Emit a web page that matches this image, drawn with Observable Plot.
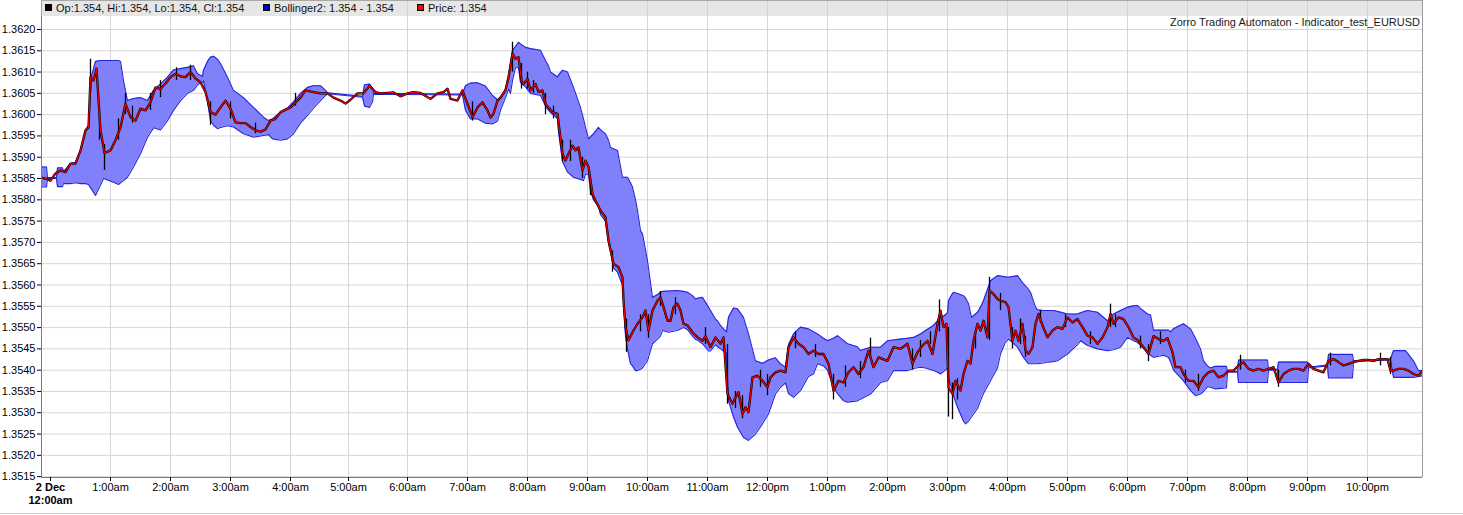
<!DOCTYPE html>
<html><head><meta charset="utf-8">
<script src="https://cdn.jsdelivr.net/npm/d3@7"></script>
<script src="https://cdn.jsdelivr.net/npm/@observablehq/plot@0.6"></script>
<style>
body{margin:0;background:#fff;font-family:"Liberation Sans",Arial,sans-serif;}
#wrap{position:relative;width:1463px;height:515px;overflow:hidden;}
#legend{position:absolute;left:41px;top:0;width:1381px;height:16px;background:rgba(205,205,205,0.5);border-top:1px solid #a8a8a8;box-sizing:border-box;font-size:11px;color:#111;}
.item{position:absolute;top:1px;white-space:nowrap;line-height:13px;}
.sw{display:inline-block;width:5px;height:5px;border:1px solid #000;margin-right:4px;vertical-align:1px;}
#title{position:absolute;right:43px;top:16px;font-size:11px;line-height:13px;color:#1a1a1a;white-space:nowrap;}
#bline{position:absolute;left:0;top:513px;width:1463px;height:1px;background:#c8c8c8;}
</style>
</head><body>
<div id="wrap">
<div id="chart"></div>
<div id="legend"></div>
<div id="title"></div>
<div id="bline"></div>
</div>
<script>
// ---- data ----
const titleText = "Zorro Trading Automaton - Indicator_test_EURUSD";
const legendItems = [
  {label: "Op:1.354, Hi:1.354, Lo:1.354, Cl:1.354", color: "#000000", left: 4},
  {label: "Bollinger2: 1.354 - 1.354", color: "#0000c8", left: 222},
  {label: "Price: 1.354", color: "#ff0000", left: 376}
];
const yTicks = [1.3515,1.3520,1.3525,1.3530,1.3535,1.3540,1.3545,1.3550,1.3555,1.3560,1.3565,1.3570,1.3575,1.3580,1.3585,1.3590,1.3595,1.3600,1.3605,1.3610,1.3615,1.3620];
// bar index (minutes since 2 Dec 12:00am on the chart's bar axis) of each hour mark
const hourBars = [0,60,120,180,240,298,357,417,477,537,597,657,717,777,837,897,957,1017,1077,1137,1197,1257,1317];
const hourLabels = ["2 Dec\n12:00am","1:00am","2:00am","3:00am","4:00am","5:00am","6:00am","7:00am","8:00am","9:00am","10:00am","11:00am","12:00pm","1:00pm","2:00pm","3:00pm","4:00pm","5:00pm","6:00pm","7:00pm","8:00pm","9:00pm","10:00pm"];
const barRange = [-9, 1372];

// price (bar, close)
const priceBars = [
[-9,1.35852],[-5,1.3585],[0,1.35845],[5,1.35862],[10,1.35869],[15,1.35865],[20,1.35885],[25,1.35885],[30,1.35916],[35,1.35963],[38,1.3597],[40,1.36088],[43,1.3608],[46,1.36108],[50,1.35963],[54,1.3591],[60,1.35916],[65,1.3594],[70,1.3597],[75,1.36026],[80,1.35994],[85,1.35986],[90,1.36014],[95,1.3601],[100,1.36029],[105,1.36064],[110,1.3606],[115,1.36073],[120,1.36088],[125,1.36096],[130,1.3609],[135,1.36088],[140,1.3610],[145,1.36085],[150,1.36076],[155,1.36053],[160,1.36006],[165,1.3600],[170,1.36017],[175,1.36033],[180,1.36014],[185,1.35982],[190,1.3598],[195,1.3598],[200,1.35971],[205,1.35963],[210,1.3596],[215,1.35965],[220,1.35986],[225,1.3599],[230,1.36006],[240,1.36017],[250,1.3604],[255,1.36057],[263,1.36053],[270,1.3605],[277,1.3605],[283,1.3604],[290,1.36033],[295,1.36026],[300,1.36035],[307,1.3605],[313,1.3605],[319,1.36068],[325,1.36053],[330,1.3605],[337,1.36051],[343,1.36052],[350,1.36043],[357,1.3605],[363,1.36053],[370,1.36051],[380,1.36037],[387,1.3605],[393,1.36053],[397,1.36061],[400,1.36037],[407,1.36033],[412,1.36057],[417,1.36025],[422,1.35994],[427,1.36017],[432,1.36029],[437,1.3601],[440,1.35993],[443,1.36002],[447,1.36033],[450,1.3604],[455,1.36057],[458,1.36088],[462,1.36143],[465,1.36131],[468,1.36135],[471,1.3608],[473,1.36072],[477,1.36084],[480,1.36057],[485,1.36072],[488,1.36053],[492,1.36057],[495,1.36025],[498,1.36017],[502,1.36006],[507,1.36002],[509,1.35963],[512,1.35908],[515,1.35892],[518,1.35908],[522,1.35927],[525,1.35916],[528,1.35923],[532,1.35869],[535,1.35892],[538,1.35877],[542,1.35814],[545,1.35798],[550,1.35775],[555,1.35759],[558,1.35704],[563,1.3565],[568,1.35642],[572,1.35618],[573,1.35563],[575,1.35501],[578,1.3547],[582,1.35489],[587,1.35509],[592,1.35524],[595,1.3554],[598,1.35493],[602,1.3554],[607,1.35563],[610,1.35571],[613,1.35548],[617,1.35516],[620,1.35516],[623,1.35548],[627,1.35556],[630,1.3554],[633,1.35509],[637,1.35505],[642,1.35489],[647,1.35477],[652,1.35469],[655,1.3548],[660,1.35454],[665,1.35477],[670,1.35462],[673,1.35477],[677,1.35344],[682,1.35321],[685,1.35336],[688,1.35348],[692,1.35297],[695,1.35313],[698,1.35301],[702,1.35383],[707,1.35387],[712,1.35375],[717,1.3536],[720,1.35383],[725,1.35395],[730,1.35399],[735,1.35395],[738,1.35454],[743,1.35477],[748,1.35462],[753,1.35454],[758,1.35438],[763,1.35446],[768,1.35438],[773,1.35438],[778,1.35415],[783,1.35352],[788,1.35375],[793,1.35371],[798,1.35395],[803,1.35407],[808,1.35391],[813,1.35407],[818,1.35446],[823,1.35407],[828,1.3543],[837,1.35422],[843,1.35454],[850,1.3545],[857,1.35462],[862,1.35415],[867,1.35442],[872,1.35458],[877,1.35469],[882,1.35438],[887,1.35509],[890,1.3554],[893,1.35501],[896,1.35509],[898,1.3536],[902,1.35344],[905,1.35375],[910,1.35352],[913,1.35391],[917,1.35422],[920,1.35415],[923,1.35469],[927,1.35509],[930,1.35493],[933,1.35516],[937,1.35477],[939,1.35587],[943,1.35579],[947,1.35567],[950,1.35563],[955,1.3556],[958,1.35548],[962,1.35469],[965,1.35493],[968,1.35469],[972,1.35509],[975,1.35446],[978,1.35438],[982,1.35454],[985,1.35509],[988,1.35532],[992,1.35505],[997,1.35477],[1002,1.35493],[1007,1.35501],[1012,1.35497],[1017,1.35524],[1022,1.35512],[1027,1.3552],[1032,1.35501],[1037,1.35481],[1042,1.35477],[1047,1.35462],[1052,1.35477],[1057,1.35501],[1060,1.35532],[1063,1.35509],[1068,1.35524],[1073,1.3552],[1078,1.35501],[1083,1.35477],[1088,1.35469],[1093,1.35454],[1098,1.35438],[1103,1.3548],[1108,1.35473],[1113,1.35469],[1117,1.35475],[1122,1.35442],[1125,1.35407],[1130,1.35407],[1133,1.35391],[1138,1.35375],[1143,1.35375],[1148,1.3536],[1153,1.35383],[1158,1.35395],[1163,1.35399],[1168,1.35383],[1173,1.35387],[1178,1.35399],[1183,1.35399],[1188,1.35411],[1193,1.35419],[1198,1.35403],[1203,1.35399],[1208,1.35403],[1213,1.35399],[1218,1.35403],[1223,1.35407],[1228,1.35371],[1233,1.35391],[1238,1.35399],[1243,1.35403],[1248,1.35403],[1253,1.35399],[1258,1.35415],[1263,1.35403],[1268,1.35399],[1273,1.35395],[1278,1.35422],[1283,1.35426],[1288,1.35419],[1293,1.35411],[1298,1.35415],[1303,1.35419],[1308,1.35422],[1313,1.35424],[1318,1.35424],[1323,1.35422],[1328,1.35426],[1333,1.35426],[1337,1.35426],[1340,1.35399],[1343,1.35399],[1348,1.35403],[1353,1.35403],[1358,1.35399],[1363,1.35391],[1368,1.35387],[1372,1.35399]
];

// candle wicks (bar, low, high) for the visible spikes
const wickBars = [
[40,1.3605,1.3613],[49,1.3594,1.3600],[54,1.35869,1.3593],[68,1.3594,1.3599],[75,1.3600,1.3605],[82,1.3598,1.3602],[100,1.3601,1.3605],[110,1.3604,1.3608],[126,1.3608,1.3611],[140,1.3608,1.36116],[160,1.35975,1.3603],[180,1.3599,1.3603],[205,1.35955,1.3598],[245,1.3602,1.3605],[422,1.35985,1.3603],[462,1.3610,1.3617],[471,1.3606,1.3612],[477,1.3606,1.3610],[483,1.3605,1.3608],[495,1.3600,1.3605],[503,1.3599,1.3602],[512,1.3589,1.3594],[520,1.3589,1.3594],[532,1.3585,1.3590],[540,1.3581,1.3585],[562,1.3563,1.3568],[576,1.35442,1.3552],[590,1.3549,1.3553],[598,1.35475,1.3553],[610,1.3555,1.35585],[625,1.3553,1.3557],[655,1.3546,1.3550],[677,1.3532,1.3546],[685,1.3531,1.3535],[692,1.35286,1.3534],[710,1.3536,1.3540],[717,1.3534,1.3539],[745,1.3545,1.3549],[765,1.3543,1.3546],[783,1.3533,1.3539],[795,1.3536,1.3541],[810,1.3538,1.3542],[820,1.3543,1.35475],[862,1.3540,1.3545],[870,1.3543,1.3547],[880,1.3546,1.3549],[889,1.3549,1.35565],[898,1.3529,1.3550],[902,1.35284,1.3537],[907,1.3533,1.3538],[925,1.3545,1.3549],[939,1.3547,1.35618],[950,1.3554,1.3558],[962,1.3545,1.3550],[970,1.3546,1.3552],[975,1.3543,1.3548],[990,1.3551,1.3554],[1015,1.3550,1.3553],[1040,1.3546,1.3549],[1060,1.3550,1.35555],[1065,1.3550,1.3553],[1090,1.3545,1.3548],[1098,1.3542,1.3546],[1110,1.3546,1.3549],[1135,1.3537,1.3540],[1148,1.3535,1.3539],[1190,1.3540,1.35435],[1228,1.3536,1.3540],[1280,1.3541,1.3544],[1330,1.3541,1.3544],[1340,1.3539,1.3543]
];

// Bollinger band (bar, lower, upper)
const bandBars = [
[-9,1.35830,1.35877],[-4,1.35830,1.35877],[-3,1.35850,1.35852],[6,1.35850,1.35852],[7,1.35831,1.35875],[12,1.35831,1.35875],[13,1.35838,1.35866],[20,1.35838,1.35885],[25,1.35840,1.35888],[30,1.35838,1.35916],[35,1.35838,1.35963],[38,1.35836,1.35975],[41,1.35825,1.36090],[45,1.35810,1.36125],[50,1.35835,1.36127],[53,1.35850,1.36127],[63,1.35841,1.36127],[68,1.35836,1.36127],[70,1.35840,1.36125],[73,1.35845,1.36080],[77,1.35853,1.36033],[83,1.35877,1.36038],[90,1.35908,1.36040],[97,1.35947,1.36033],[103,1.35969,1.36057],[110,1.35964,1.36072],[117,1.35986,1.36088],[123,1.36010,1.36105],[130,1.36033,1.36108],[137,1.36050,1.36111],[143,1.36057,1.36115],[147,1.36070,1.36096],[152,1.36076,1.36090],[153,1.36080,1.36104],[157,1.36030,1.36125],[160,1.35986,1.36135],[163,1.35975,1.36137],[167,1.35967,1.36130],[170,1.35970,1.36120],[177,1.35974,1.36088],[183,1.35971,1.36057],[193,1.35955,1.36040],[203,1.35947,1.36017],[213,1.35951,1.35994],[218,1.35953,1.35986],[222,1.35943,1.35990],[230,1.35940,1.36006],[237,1.35943,1.36015],[243,1.35955,1.36030],[250,1.35980,1.36050],[257,1.35998,1.36064],[263,1.36015,1.36068],[270,1.36033,1.36068],[275,1.36045,1.36057],[277,1.36049,1.36051],[312,1.36041,1.36043],[314,1.36020,1.36070],[319,1.36017,1.36072],[322,1.36030,1.36062],[323,1.36048,1.36050],[412,1.36046,1.36048],[415,1.36010,1.36068],[420,1.35990,1.36074],[427,1.35990,1.36075],[435,1.35980,1.36067],[442,1.35978,1.36045],[447,1.35985,1.36035],[450,1.36010,1.36040],[455,1.36040,1.36060],[458,1.36060,1.36090],[460,1.36050,1.36120],[462,1.36080,1.36151],[465,1.36110,1.36160],[468,1.36110,1.36170],[470,1.36075,1.36166],[475,1.36065,1.36158],[480,1.36050,1.36155],[490,1.36045,1.36151],[495,1.36020,1.36127],[498,1.36010,1.36115],[500,1.36005,1.36100],[505,1.35995,1.36092],[507,1.35990,1.36088],[508,1.35960,1.36093],[512,1.35890,1.36104],[517,1.35865,1.36100],[523,1.35853,1.36064],[530,1.35848,1.36017],[533,1.35845,1.35990],[535,1.35860,1.35970],[538,1.35860,1.35943],[540,1.35820,1.35948],[543,1.35800,1.35955],[548,1.35785,1.35970],[550,1.35765,1.35965],[555,1.35750,1.35955],[558,1.35700,1.35940],[560,1.35680,1.35923],[563,1.35640,1.35920],[567,1.35630,1.35916],[572,1.35600,1.35853],[575,1.35480,1.35853],[577,1.35450,1.35853],[580,1.35415,1.35840],[582,1.35410,1.35830],[585,1.35399,1.35800],[587,1.35399,1.35775],[590,1.35402,1.35728],[592,1.35405,1.35720],[597,1.35422,1.35657],[602,1.35462,1.35571],[607,1.35473,1.35577],[610,1.35480,1.35583],[612,1.35493,1.35585],[618,1.35489,1.35586],[627,1.35493,1.35587],[633,1.35500,1.35585],[637,1.35495,1.35583],[642,1.35480,1.35575],[645,1.35472,1.35567],[647,1.35470,1.35569],[652,1.35462,1.35571],[658,1.35445,1.35548],[660,1.35445,1.35540],[665,1.35460,1.35520],[667,1.35455,1.35516],[670,1.35450,1.35505],[673,1.35445,1.35497],[676,1.35440,1.35490],[678,1.35328,1.35524],[683,1.35290,1.35546],[687,1.35266,1.35544],[693,1.35242,1.35524],[698,1.35235,1.35485],[705,1.35250,1.35422],[712,1.35274,1.35416],[718,1.35297,1.35424],[725,1.35344,1.35429],[730,1.35360,1.35415],[735,1.35370,1.35407],[738,1.35345,1.35460],[743,1.35336,1.35485],[750,1.35352,1.35501],[758,1.35385,1.35497],[763,1.35391,1.35490],[767,1.35415,1.35485],[773,1.35410,1.35475],[777,1.35400,1.35469],[783,1.35360,1.35475],[787,1.35345,1.35481],[793,1.35328,1.35470],[797,1.35325,1.35462],[807,1.35328,1.35455],[810,1.35332,1.35446],[820,1.35344,1.35454],[830,1.35371,1.35454],[837,1.35375,1.35469],[843,1.35399,1.35471],[850,1.35399,1.35473],[857,1.35399,1.35475],[863,1.35404,1.35477],[870,1.35407,1.35485],[875,1.35405,1.35493],[883,1.35399,1.35505],[887,1.35395,1.35516],[890,1.35391,1.35522],[895,1.35400,1.35530],[897,1.35407,1.35535],[898,1.35380,1.35563],[902,1.35352,1.35580],[903,1.35340,1.35583],[907,1.35313,1.35580],[913,1.35280,1.35575],[915,1.35274,1.35570],[918,1.35280,1.35556],[921,1.35290,1.35524],[923,1.35297,1.35528],[927,1.35310,1.35536],[930,1.35328,1.35548],[933,1.35345,1.35563],[940,1.35375,1.35610],[947,1.35405,1.35622],[950,1.35438,1.35621],[955,1.35466,1.35619],[958,1.35473,1.35618],[967,1.35454,1.35622],[973,1.35430,1.35603],[978,1.35415,1.35590],[980,1.35415,1.35583],[985,1.35415,1.35548],[987,1.35415,1.35542],[993,1.35417,1.35540],[997,1.35419,1.35540],[1003,1.35420,1.35540],[1007,1.35422,1.35538],[1017,1.35438,1.35532],[1027,1.35460,1.35532],[1030,1.35469,1.35535],[1037,1.35458,1.35540],[1047,1.35450,1.35536],[1057,1.35446,1.35516],[1063,1.35448,1.35532],[1070,1.35454,1.35540],[1077,1.35477,1.35548],[1083,1.35469,1.35551],[1087,1.35465,1.35552],[1090,1.35458,1.35545],[1097,1.35442,1.35532],[1100,1.35435,1.35530],[1103,1.35430,1.35494],[1107,1.35432,1.35494],[1113,1.35435,1.35494],[1118,1.35430,1.35494],[1120,1.35420,1.35490],[1123,1.35400,1.35497],[1133,1.35375,1.35509],[1140,1.35352,1.35497],[1145,1.35340,1.35475],[1150,1.35344,1.35450],[1153,1.35350,1.35422],[1157,1.35361,1.35410],[1160,1.35360,1.35405],[1165,1.35356,1.35409],[1176,1.35358,1.35409],[1177,1.35395,1.35397],[1187,1.35395,1.35397],[1188,1.35371,1.35424],[1217,1.35371,1.35424],[1218,1.35400,1.35402],[1227,1.35400,1.35402],[1228,1.35371,1.35419],[1257,1.35371,1.35419],[1258,1.35405,1.35407],[1277,1.35410,1.35412],[1278,1.35382,1.35437],[1302,1.35382,1.35437],[1303,1.35420,1.35422],[1340,1.35424,1.35426],[1343,1.35383,1.35446],[1355,1.35383,1.35446],[1363,1.35383,1.35422],[1368,1.35385,1.35399],[1372,1.35387,1.35399]
];

// ---- chart ----
const yDomain = [1.35148, 1.36268];
const labelOf = new Map(hourBars.map((b, i) => [b, hourLabels[i]]));

const chart = Plot.plot({
  width: 1463, height: 515,
  marginLeft: 41, marginRight: 41, marginTop: 0, marginBottom: 38,
  x: {type: "linear", domain: barRange, axis: null},
  y: {domain: yDomain, axis: null},
  style: {fontFamily: "'Liberation Sans', Arial, sans-serif", fontSize: "11px", background: "transparent", color: "#000"},
  marks: [
    Plot.ruleX(hourBars.slice(1), {stroke: "#d6d6d6", strokeWidth: 1}),
    Plot.ruleY(yTicks, {stroke: "#d6d6d6", strokeWidth: 1}),
    Plot.areaY(bandBars, {x: d => d[0], y1: d => d[1], y2: d => d[2], fill: "#8080fb", fillOpacity: 1, clip: true}),
    Plot.line(bandBars, {x: d => d[0], y: d => d[2], stroke: "#2525dc", strokeWidth: 1.1, clip: true}),
    Plot.line(bandBars, {x: d => d[0], y: d => d[1], stroke: "#2525dc", strokeWidth: 1.1, clip: true}),
    Plot.line(priceBars, {x: d => d[0], y: d => d[1], stroke: "#000", strokeWidth: 2.3, clip: true}),
    Plot.ruleX(wickBars, {x: d => d[0], y1: d => d[1], y2: d => d[2], stroke: "#000", strokeWidth: 1.3}),
    Plot.line(priceBars, {x: d => d[0], y: d => d[1], stroke: "#f00000", strokeWidth: 1.2, clip: true}),
    Plot.ruleX([barRange[0]], {stroke: "#7a7a7a"}),
    Plot.ruleX([barRange[1]], {stroke: "#9a9a9a"}),
    Plot.ruleY([yDomain[0]], {stroke: "#7a7a7a"}),
    Plot.axisY(yTicks, {tickSize: 4, tickPadding: 2, tickFormat: d => d.toFixed(4), fontSize: 11}),
    Plot.axisX(hourBars, {tickSize: 4, tickPadding: 2, fontSize: 11, tickFormat: d => d === 0 ? "" : labelOf.get(d)}),
    Plot.text([hourBars[0]], {x: d => d, y: yDomain[0], text: d => labelOf.get(d), dy: 5, lineAnchor: "top", fontWeight: "bold", fontSize: 11, lineHeight: 1.15})
  ]
});
document.getElementById("chart").appendChild(chart);

const legend = document.getElementById("legend");
legendItems.forEach(it => {
  const d = document.createElement("div");
  d.className = "item";
  d.style.left = it.left + "px";
  const sw = document.createElement("span");
  sw.className = "sw";
  sw.style.background = it.color;
  d.appendChild(sw);
  d.appendChild(document.createTextNode(it.label));
  legend.appendChild(d);
});
document.getElementById("title").textContent = titleText;
</script>
</body></html>
